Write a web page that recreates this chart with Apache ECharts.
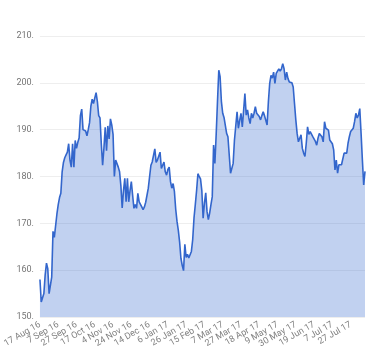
<!DOCTYPE html>
<html>
<head>
<meta charset="utf-8">
<script src="https://cdn.jsdelivr.net/npm/echarts@6/dist/echarts.min.js"></script>
<style>html,body{margin:0;padding:0;background:#fff}#c{width:380px;height:360px}</style>
</head>
<body>
<div id="c"></div>
<script>
// Trading days (London market) starting 17 Aug 2016
var startDate = '2016-08-17';
var holidays = ['2016-08-29','2016-12-26','2016-12-27','2017-01-02','2017-04-14','2017-04-17','2017-05-01','2017-05-29'];
var yTicks = [150, 160, 170, 180, 190, 200, 210];
var values = [
158,153.2,153.5,155,159,161.5,160.3,155,154.6,158.5,
168.3,167,166.7,172,174,175.5,176.4,181,183,184,
184.6,185.2,187,183.5,182,187,182,187.7,186,187.3,
188.2,193,194.4,190,190.1,189.7,188.7,190,191.5,195,
196.5,195.6,195.2,197.9,196,193,192.5,187,182.4,186,
190.5,185.5,190.8,188,192.3,191,189,180,183.5,183.6,
182,181,178,173.3,177,179.6,174.6,179.6,174.6,177,
178.9,176,173.2,174,173.2,176.4,174.6,174.3,173.5,172.9,
173.5,174.5,176,177.5,180,182.4,183.1,183.5,185.9,183,
183.5,183.5,185.2,181.7,181.7,183.1,181,180.3,181.5,182,
178.9,177.5,178.5,176.8,173,170.4,168.5,166,162.5,161,
159.9,165.5,162.7,163.4,162.6,162.3,164,166.5,171.1,174,
177,180.6,180,179.5,177,171.1,174.3,176.5,172.5,170.8,
172.2,174,175.7,186.7,182.8,189,196,202.7,201.3,196,
193.5,192.6,192.4,189.2,188.5,188.2,180.7,180.4,182.8,187.8,
188,193.8,190.3,192,193.5,190.6,194,197.7,193.1,194.2,
192.5,191.3,193.5,192.5,193.5,194.9,193.5,193.1,192.8,192.1,
193,193.8,193,192,191,196,199.9,201.6,201,202.3,
199.9,202,202.5,203,202.5,203,204.1,203,200.6,202.3,
200.9,200.2,200.2,200,199.1,195.6,192.1,189.2,187.4,187.1,
188.9,186,185,184.3,187.1,190.6,189,189.6,189.9,188.5,
188.5,187.5,186.7,188.2,189.2,188.8,188.5,187.4,191.7,190.3,
190.3,189.9,187.8,188.2,187,185.7,181.4,183.5,180.7,182.5,
182.1,182.5,182.8,185,185.2,185,187.1,188.5,189.6,190,
190.3,191.7,193.5,192.5,193.1,194.5,189.2,183.5,178.2,181.1
];
var MONTHS = ['Jan','Feb','Mar','Apr','May','Jun','Jul','Aug','Sep','Oct','Nov','Dec'];
function pad(n){return (n<10?'0':'')+n;}
var categories = [];
(function(){
  var d = new Date(startDate + 'T12:00:00Z');
  while (categories.length < values.length) {
    var wd = d.getUTCDay();
    var iso = d.getUTCFullYear()+'-'+pad(d.getUTCMonth()+1)+'-'+pad(d.getUTCDate());
    if (wd !== 0 && wd !== 6 && holidays.indexOf(iso) < 0) {
      categories.push(d.getUTCDate()+' '+MONTHS[d.getUTCMonth()]+' '+String(d.getUTCFullYear()).slice(2));
    }
    d.setUTCDate(d.getUTCDate()+1);
  }
})();

var chart = echarts.init(document.getElementById('c'), null, {renderer:'canvas'});
chart.setOption({
  animation: false,
  backgroundColor: '#ffffff',
  grid: {left: 37, right: 15, top: 36, bottom: 43, containLabel: false},
  xAxis: {
    type: 'category',
    data: categories,
    boundaryGap: false,
    axisLine: {show: false},
    axisTick: {show: false},
    splitLine: {show: false},
    axisLabel: {
      interval: 13,
      rotate: 30,
      margin: 7,
      hideOverlap: false,
      showMinLabel: true,
      color: '#808080',
      fontSize: 9,
      fontFamily: 'Roboto'
    }
  },
  yAxis: {
    type: 'value',
    min: yTicks[0],
    max: yTicks[yTicks.length-1],
    interval: 10,
    axisLine: {show: false},
    axisTick: {show: false},
    splitLine: {lineStyle: {color: '#eeeeee', width: 1}},
    axisLabel: {
      color: '#757575',
      fontSize: 9,
      fontFamily: 'Roboto',
      margin: 6,
      formatter: function(v){ return v + '.'; }
    }
  },
  series: [{
    type: 'line',
    data: values,
    symbol: 'none',
    lineStyle: {color: '#3366cc', width: 1.6},
    itemStyle: {color: '#3366cc'},
    areaStyle: {color: '#3366cc', opacity: 0.3}
  }]
});
</script>
</body>
</html>
